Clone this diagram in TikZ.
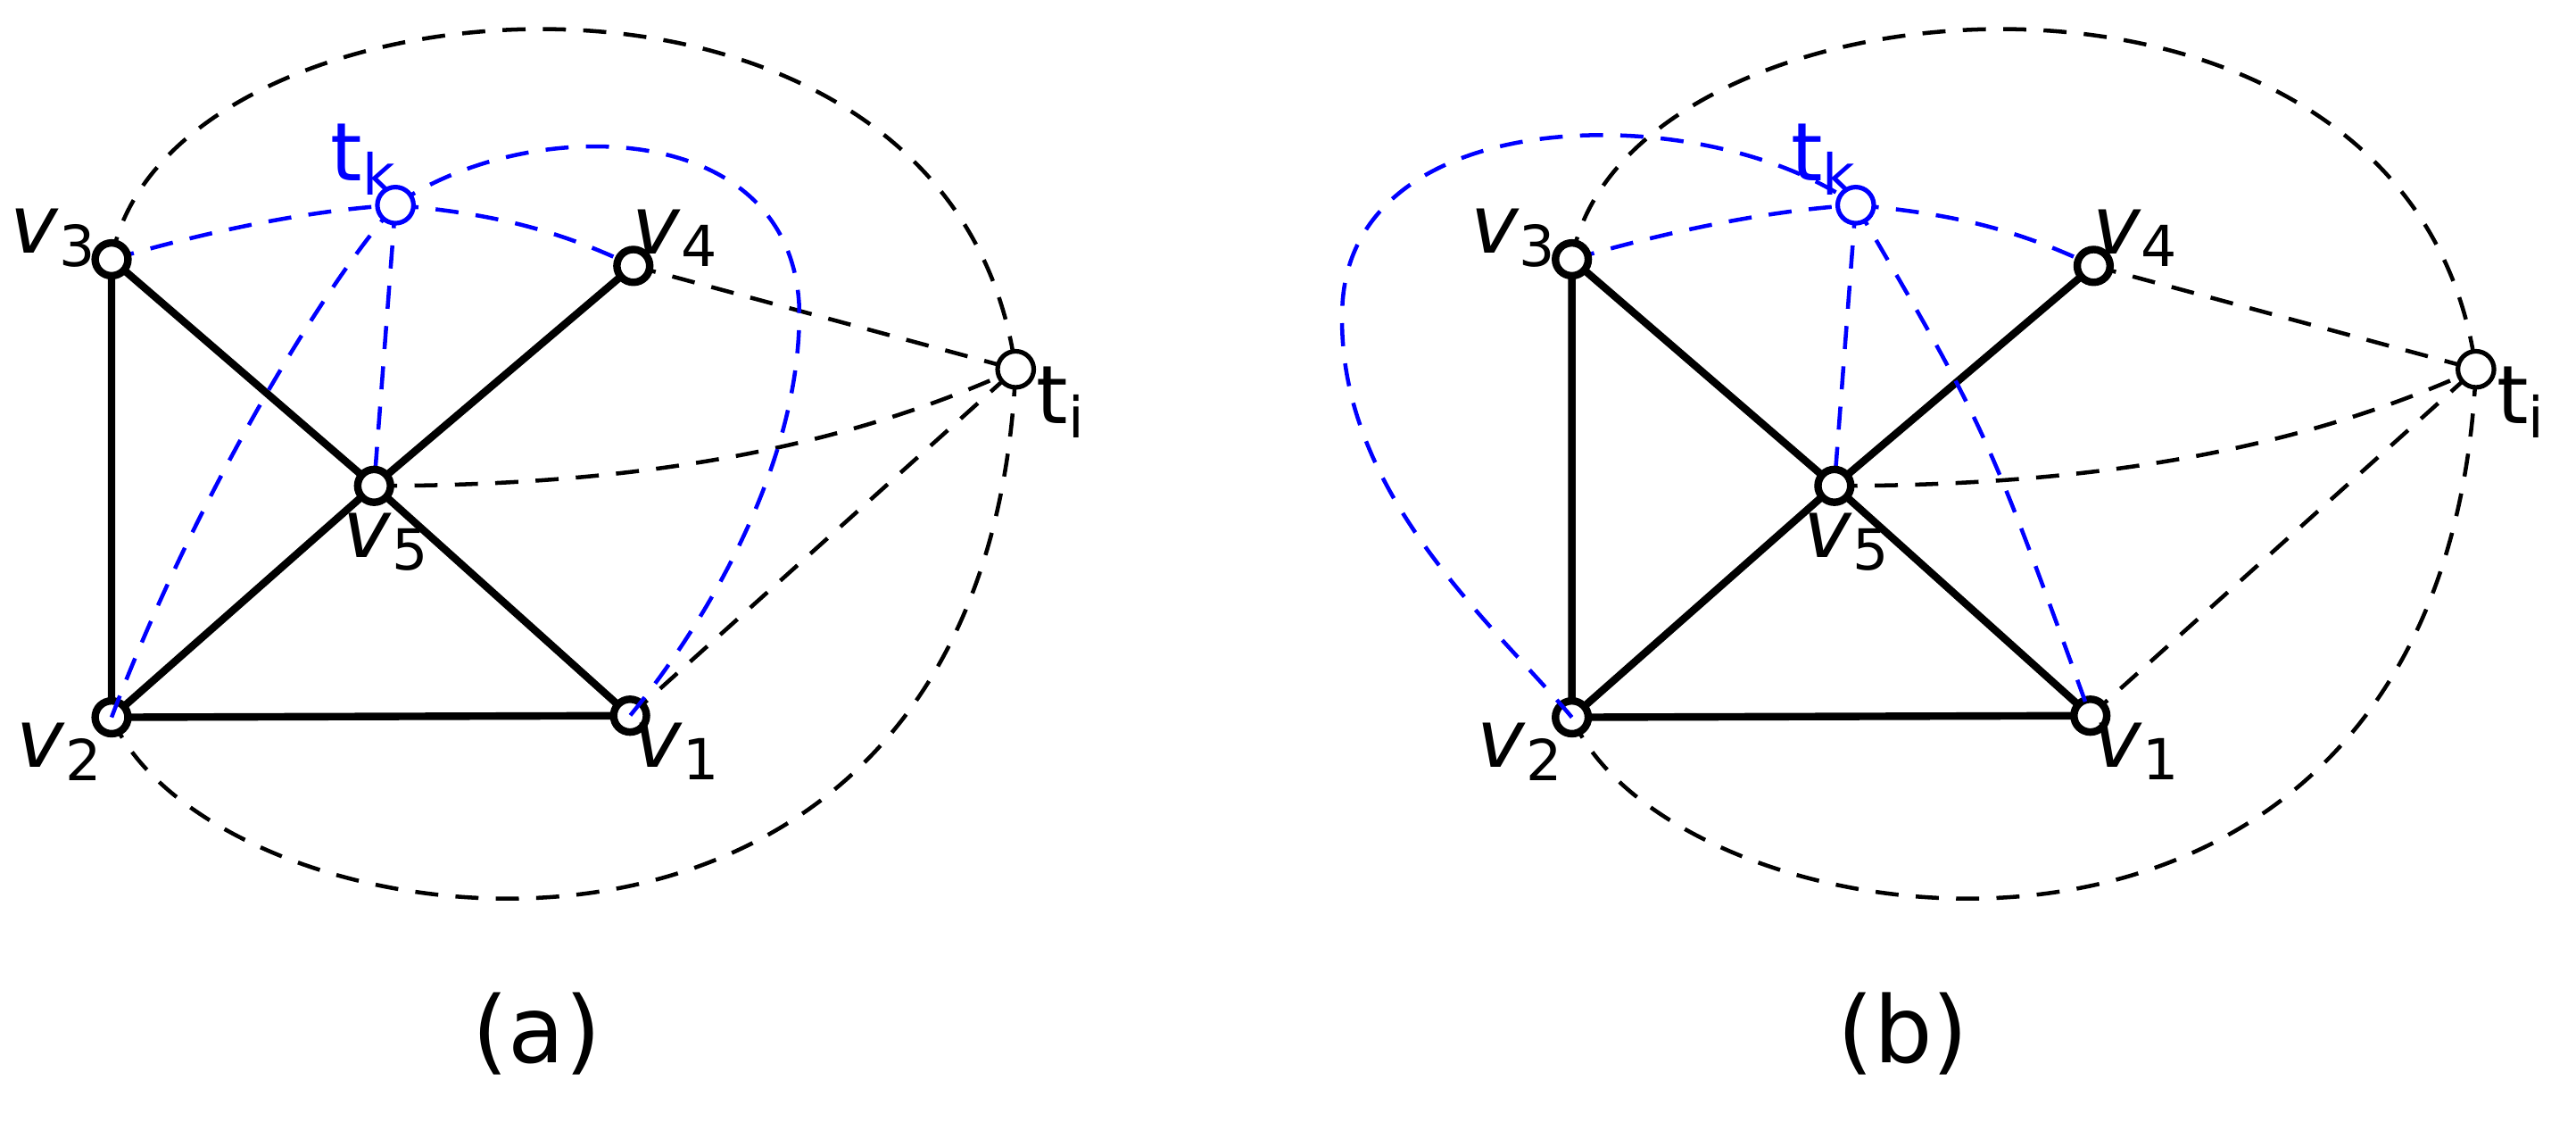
\documentclass[tikz,border=0pt]{standalone}
\usepackage{fontspec}
\setmainfont{DejaVu Sans}
\begin{document}
\begin{tikzpicture}[x=0.01cm,y=-0.01cm,
  vtx/.style={circle,draw,line width=1.3pt,fill=white,inner sep=0pt,minimum size=0.2cm},
  tvx/.style={circle,draw,line width=0.8pt,fill=white,inner sep=0pt,minimum size=0.22cm},
  sol/.style={line width=1.3pt},
  bd/.style={line width=0.7pt,dash pattern=on 4pt off 3pt},
  bl/.style={bd,blue},
  lab/.style={font=\fontsize{14}{16}\selectfont},
  captext/.style={font=\fontsize{16}{18}\selectfont}]
\useasboundingbox (0,0) rectangle (1570,689);
\foreach \p/\dx in {a/0,b/890}{
\begin{scope}[shift={(\dx,0)}]
\coordinate (\p3) at (68,158);
\coordinate (\p4) at (386,162);
\coordinate (\p k) at (241,125);
\coordinate (\p5) at (228,296);
\coordinate (\p2) at (68,437);
\coordinate (\p1) at (384,436);
\coordinate (\p i) at (619,225);
\draw[bd] (\p3) .. controls (100,-20) and (580,-60) .. (\p i);
\draw[bd] (\p2) .. controls (130,580) and (600,650) .. (\p i);
\draw[bd] (\p4) -- (\p i);
\draw[bd] (\p1) -- (\p i);
\draw[bd] (\p5) .. controls (400,296) and (520,270) .. (\p i);
\draw[bl] (\p3) .. controls (130,140) and (190,128) .. (\p k);
\draw[bl] (\p k) .. controls (300,130) and (340,140) .. (\p4);
\draw[bl] (\p k) -- (\p5);
\draw[sol] (\p3) -- (\p2) -- (\p1) -- (\p5) -- (\p3);
\draw[sol] (\p2) -- (\p5) -- (\p4);
\node[vtx] at (\p3) {}; \node[vtx] at (\p4) {}; \node[vtx] at (\p5) {};
\node[vtx] at (\p2) {}; \node[vtx] at (\p1) {};
\node[tvx] at (\p i) {};
\node[lab] at (33,145) {\textit{v}\textsubscript{3}};
\node[lab] at (412,145) {\textit{v}\textsubscript{4}};
\node[lab] at (236,330) {\textit{v}\textsubscript{5}};
\node[lab] at (37,458) {\textit{v}\textsubscript{2}};
\node[lab] at (413,458) {\textit{v}\textsubscript{1}};
\node[lab] at (647,245) {t\textsubscript{i}};
\node[lab,blue] at (222,97) {t\textsubscript{k}};
\end{scope}}
\draw[bl] (a2) .. controls (120,300) and (200,170) .. (ak);
\draw[bl] (ak) .. controls (320,70) and (480,70) .. (487,185) .. controls (490,280) and (430,380) .. (a1);
\draw[bl] (b2) .. controls (910,380) and (815,300) .. (818,190) .. controls (820,60) and (1040,60) .. (bk);
\draw[bl] (bk) .. controls (1210,260) .. (b1);
\node[tvx,draw=blue] at (ak) {};
\node[tvx,draw=blue] at (bk) {};
\node[captext] (capa) at (327,630) {(a)};
\node[captext] (capb) at (1160,630) {(b)};
\end{tikzpicture}
\end{document}
